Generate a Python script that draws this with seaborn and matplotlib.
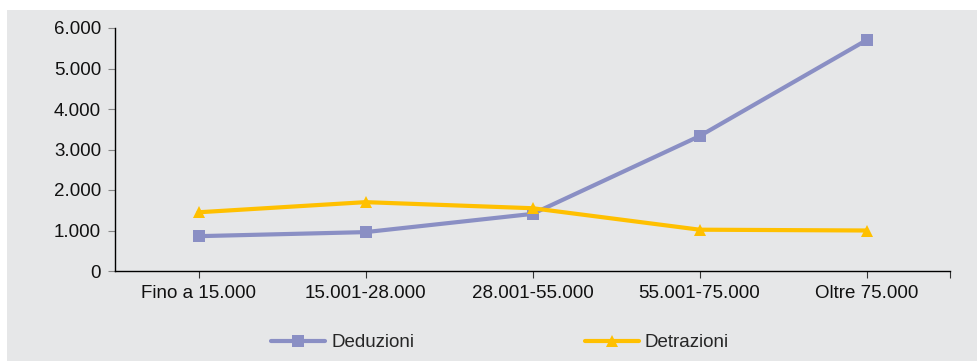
import matplotlib.pyplot as plt
import matplotlib.ticker as mticker
from matplotlib.patches import Rectangle
import pandas as pd
import seaborn as sns

# reddito classes and average amounts
classi = ['Fino a 15.000', '15.001-28.000', '28.001-55.000', '55.001-75.000', 'Oltre 75.000']
deduzioni = [860, 960, 1410, 3330, 5700]
detrazioni = [1450, 1700, 1550, 1020, 1000]

df = pd.DataFrame({
    'Classe': classi * 2,
    'Valore': deduzioni + detrazioni,
    'Serie': ['Deduzioni'] * 5 + ['Detrazioni'] * 5,
})

sns.set_style('white')
plt.rcParams['font.family'] = ['Liberation Sans', 'DejaVu Sans']
bg = '#E6E7E8'
fs = 13.5

fig = plt.figure(figsize=(9.78, 3.61), dpi=100, facecolor='white')
fig.patches.append(Rectangle((7 / 978, 0), 1 - 7 / 978, 1 - 10 / 361,
                             transform=fig.transFigure, facecolor=bg,
                             edgecolor='none', zorder=-1))
ax = fig.add_axes([115 / 978, 90 / 361, 835 / 978, 243 / 361])
ax.set_facecolor(bg)

sns.lineplot(data=df, x='Classe', y='Valore', hue='Serie', style='Serie',
             palette={'Deduzioni': '#8A8FC4', 'Detrazioni': '#FFC000'},
             markers={'Deduzioni': 's', 'Detrazioni': '^'},
             dashes=False, linewidth=3, markersize=9, markeredgewidth=0,
             sort=False, ax=ax)

ax.set_xlim(-0.5, 4.5)
ax.set_ylim(0, 6000)
ax.yaxis.set_major_locator(mticker.MultipleLocator(1000))
ax.yaxis.set_major_formatter(mticker.FuncFormatter(lambda v, p: f'{int(v):,}'.replace(',', '.')))
ax.set_xlabel('')
ax.set_ylabel('')
for s in ['top', 'right']:
    ax.spines[s].set_visible(False)
for s in ['left', 'bottom']:
    ax.spines[s].set_color('black')
    ax.spines[s].set_linewidth(1)
ax.tick_params(axis='y', which='major', left=True, length=5, color='#888888',
               labelsize=fs, labelcolor='#111111', pad=5)
ax.tick_params(axis='x', which='major', bottom=True, length=5, color='#333333',
               labelsize=fs, labelcolor='#111111', pad=5)
ax.set_xticks([0, 1, 2, 3, 4, 4.5])
ax.set_xticklabels(classi + [''])

ax.legend(loc='upper center', bbox_to_anchor=(0.461, -0.19), ncol=2, frameon=False,
          fontsize=fs, columnspacing=9.1, handlelength=2.9, handletextpad=0.3)

fig.savefig('out.png', dpi=100, facecolor='white')
